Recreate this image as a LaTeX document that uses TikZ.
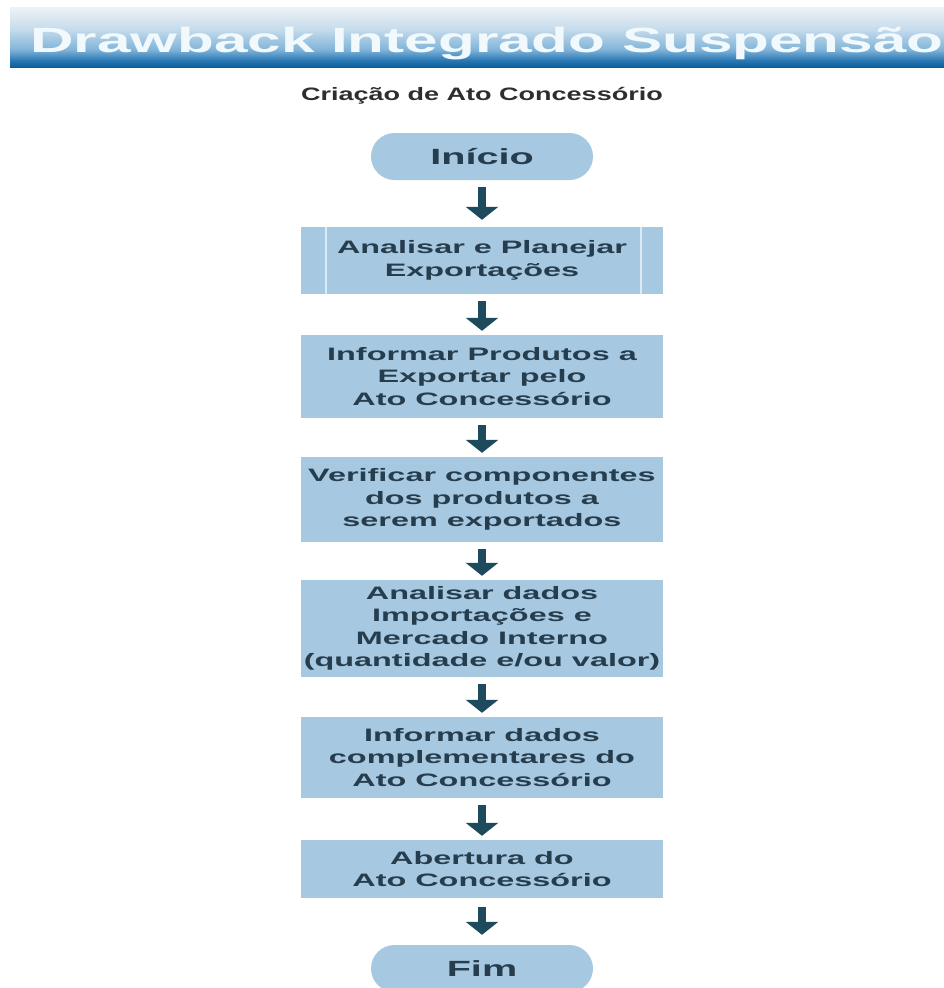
\documentclass[tikz,border=0pt]{standalone}
\usepackage{fontspec}
\setmainfont{Liberation Sans}
\newfontfamily\titlefont[FakeStretch=1.72]{Liberation Sans}
\newfontfamily\boxfont[FakeStretch=1.8]{Liberation Sans}
\newfontfamily\subfont[FakeStretch=1.5]{Liberation Sans}
\usetikzlibrary{arrows.meta}
\definecolor{boxfill}{HTML}{A7C8E1}
\definecolor{boxtext}{HTML}{263D4D}
\definecolor{arrowcol}{HTML}{1E4A5E}
\definecolor{bantop}{HTML}{EEF2F6}
\definecolor{banlight}{HTML}{C3DAEB}
\definecolor{banmid}{HTML}{7DB2D8}
\definecolor{bandark}{HTML}{2A78B4}
\definecolor{bandeep}{HTML}{0F5D98}
\definecolor{titlecol}{HTML}{F2F9FD}
\definecolor{subcol}{HTML}{2E2E2E}
\definecolor{procline}{HTML}{DCEAF4}
\tikzset{
  stepbox/.style={rectangle, fill=boxfill, inner sep=0pt, minimum width=362pt,
    align=center, text=boxtext, font=\boxfont\bfseries\fontsize{18}{22.5}\selectfont},
  termbox/.style={rectangle, rounded corners=23.5pt, fill=boxfill, inner sep=0pt,
    minimum width=222pt, minimum height=47pt, text=boxtext,
    font=\boxfont\bfseries\fontsize{22}{26}\selectfont},
  flowarrow/.style={draw=arrowcol, line width=8pt,
    -{Triangle[width=32pt,length=13pt]}, shorten <=7pt, shorten >=4pt}
}
\begin{document}
\begin{tikzpicture}[x=1pt,y=-1pt]
\useasboundingbox (0,0) rectangle (944,988);
\clip (0,0) rectangle (944,988);
\fill[white] (0,0) rectangle (944,988);
% banner
\shade[top color=bantop, bottom color=banlight] (10,7) rectangle (944,30.5);
\shade[top color=banlight, bottom color=banmid] (10,30) rectangle (944,50.5);
\shade[top color=banmid, bottom color=bandark] (10,50) rectangle (944,60.5);
\shade[top color=bandark, bottom color=bandeep] (10,60) rectangle (944,67);
\node[anchor=base west, inner sep=0pt, text=titlecol,
  font=\titlefont\bfseries\fontsize{35}{40}\selectfont] (title) at (30,52) {Drawback Integrado Suspensão};
\node[anchor=base, inner sep=0pt, text=subcol,
  font=\subfont\bfseries\fontsize{18}{22}\selectfont] (subtitle) at (482,100) {Criação de Ato Concessório};
% nodes
\node[termbox] (start) at (482,156.5) {Início};
\node[stepbox, minimum height=67pt] (b1) at (482,260.5) {Analisar e Planejar\\Exportações};
\node[stepbox, minimum height=83pt] (b2) at (482,376.5) {Informar Produtos a\\Exportar pelo\\Ato Concessório};
\node[stepbox, minimum height=85pt] (b3) at (482,499.5) {Verificar componentes\\dos produtos a\\serem exportados};
\node[stepbox, minimum height=97pt] (b4) at (482,628.5) {Analisar dados\\Importações e\\Mercado Interno\\(quantidade e/ou valor)};
\node[stepbox, minimum height=81pt] (b5) at (482,757.5) {Informar dados\\complementares do\\Ato Concessório};
\node[stepbox, minimum height=58pt] (b6) at (482,869) {Abertura do\\Ato Concessório};
\node[termbox] (end) at (482,968.5) {Fim};
% predefined-process side lines of first box
\draw[procline, line width=1.5pt] ([xshift=25pt]b1.north west) -- ([xshift=25pt]b1.south west);
\draw[procline, line width=1.5pt] ([xshift=-22pt]b1.north east) -- ([xshift=-22pt]b1.south east);
% arrows
\draw[flowarrow, shorten >=7pt] (start.south) -- (b1.north);
\draw[flowarrow] (b1.south) -- (b2.north);
\draw[flowarrow] (b2.south) -- (b3.north);
\draw[flowarrow] (b3.south) -- (b4.north);
\draw[flowarrow] (b4.south) -- (b5.north);
\draw[flowarrow] (b5.south) -- (b6.north);
\draw[flowarrow, shorten <=9pt, shorten >=10pt] (b6.south) -- (end.north);
\end{tikzpicture}
\end{document}
